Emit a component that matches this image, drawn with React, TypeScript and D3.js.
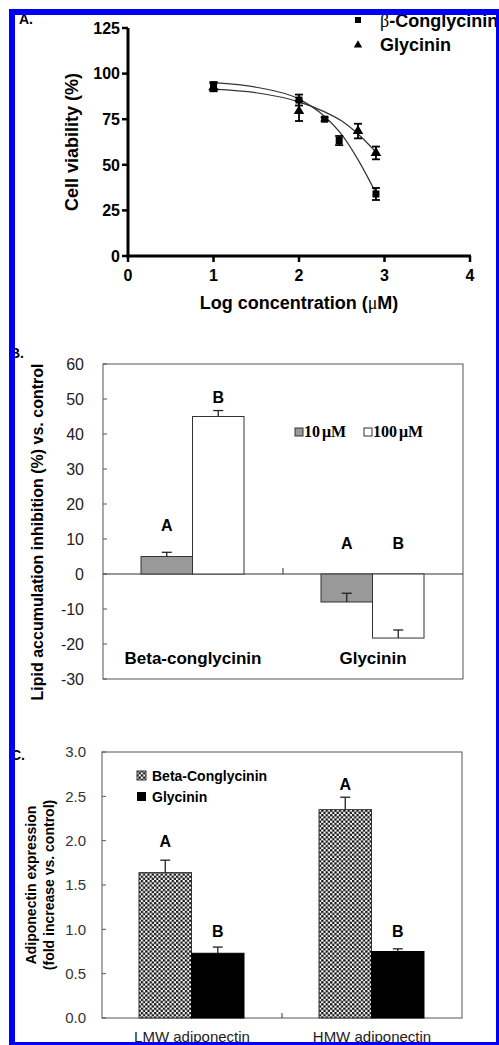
import React from 'react';
import * as d3 from 'd3';

// Panel A data
const concBeta = [1, 2, 2.3, 2.47, 2.9];
const viabBeta = [93.2, 85.5, 75, 63.3, 34];
const errBeta = [2.2, 3, 1, 2.5, 3.3];
const concGly = [1, 2, 2.69, 2.9];
const viabGly = [92.5, 79.5, 68.5, 56.5];
const errGly = [2.2, 5.5, 4, 3.5];
const fitX = [1, 1.5, 2, 2.3, 2.5, 2.7, 2.9];
const fitBeta = [95, 92.5, 86, 76.5, 66.5, 52, 34.5];
const fitGly = [91.5, 89.5, 84.5, 79, 74, 66.5, 57];
const xTicksA = [0, 1, 2, 3, 4];
const yTicksA = [0, 25, 50, 75, 100, 125];

// Panel B data
const catsB = ['Beta-conglycinin', 'Glycinin'];
const dosesB = ['10 μM', '100 μM'];
const val10 = [5, -8];
const err10 = [1.2, 2.5];
const val100 = [45, -18.3];
const err100 = [1.7, 2.3];
const letters10 = ['A', 'A'];
const letters100 = ['B', 'B'];
const letterY10 = [12.3, 7.1];
const letterY100 = [49, 7.1];
const yTicksB = [-30, -20, -10, 0, 10, 20, 30, 40, 50, 60];

// Panel C data
const catsC = ['LMW adiponectin', 'HMW adiponectin'];
const seriesC = ['Beta-Conglycinin', 'Glycinin'];
const valBetaC = [1.64, 2.35];
const errBetaC = [0.14, 0.14];
const valGlyC = [0.73, 0.75];
const errGlyC = [0.07, 0.03];
const lettersBetaC = ['A', 'A'];
const lettersGlyC = ['B', 'B'];
const letterYBetaC = [1.93, 2.57];
const letterYGlyC = [0.91, 0.91];
const yTicksC = [0, 0.5, 1, 1.5, 2, 2.5, 3];

const SANS = '"Liberation Sans", Arial, Helvetica, sans-serif';
const SERIF = '"Liberation Serif", "Times New Roman", serif';

export default function App() {
  // ---- Panel A scales
  const xA = d3.scaleLinear().domain([0, 4]).range([128, 470]);
  const yA = d3.scaleLinear().domain([0, 125]).range([256, 28]);
  const fitLine = d3
    .line<[number, number]>()
    .x((d) => xA(d[0]))
    .y((d) => yA(d[1]))
    .curve(d3.curveMonotoneX);
  const fitBetaPts = fitX.map((x, i) => [x, fitBeta[i]] as [number, number]);
  const fitGlyPts = fitX.map((x, i) => [x, fitGly[i]] as [number, number]);
  const tri = d3.symbol().type(d3.symbolTriangle).size(48)();

  // ---- Panel B scales
  const xB = d3.scaleBand<string>().domain(catsB).range([103, 463]);
  const subB = d3.scaleBand<string>().domain(dosesB).range([0, 103]);
  const yB = d3.scaleLinear().domain([-30, 60]).range([679, 364]);

  // ---- Panel C scales
  const xC = d3.scaleBand<string>().domain(catsC).range([102, 462]);
  const subC = d3.scaleBand<string>().domain(seriesC).range([0, 105]);
  const yC = d3.scaleLinear().domain([0, 3]).range([1018, 752]);

  const errBar = (x: number, y0: number, y1: number, key: string, w = 10) => (
    <g key={key} stroke="#222" strokeWidth={1.3}>
      <line x1={x} x2={x} y1={y0} y2={y1} />
      <line x1={x - w / 2} x2={x + w / 2} y1={y1} y2={y1} />
    </g>
  );

  return (
    <svg
      width={499}
      height={1045}
      style={{ position: 'absolute', left: 0, top: 0, background: '#fff' }}
      fontFamily={SANS}
    >
      <defs>
        <pattern id="dots" width={4.4} height={4.4} patternUnits="userSpaceOnUse">
          <rect width={4.4} height={4.4} fill="#fff" />
          <circle cx={1.1} cy={1.1} r={1.3} fill="#111" />
          <circle cx={3.3} cy={3.3} r={1.3} fill="#111" />
        </pattern>
      </defs>

      {/* ================= Panel A ================= */}
      <text x={19} y={24} fontSize={14} fontWeight="bold">A.</text>
      {/* axes */}
      <line x1={xA(0)} x2={xA(0)} y1={yA(125)} y2={yA(0) + 1.5} stroke="#000" strokeWidth={3} />
      <line x1={xA(0) - 1.5} x2={xA(4) + 1} y1={yA(0)} y2={yA(0)} stroke="#000" strokeWidth={3} />
      {yTicksA.map((t) => (
        <g key={'ya' + t}>
          <line x1={xA(0) - 6} x2={xA(0)} y1={yA(t)} y2={yA(t)} stroke="#000" strokeWidth={2.5} />
          <text x={xA(0) - 8} y={yA(t)} dy="0.36em" textAnchor="end" fontSize={16} fontWeight="bold">
            {t}
          </text>
        </g>
      ))}
      {xTicksA.map((t) => (
        <g key={'xa' + t}>
          <line x1={xA(t)} x2={xA(t)} y1={yA(0)} y2={yA(0) + 6} stroke="#000" strokeWidth={2.5} />
          <text x={xA(t)} y={281} textAnchor="middle" fontSize={16} fontWeight="bold">
            {t}
          </text>
        </g>
      ))}
      <text x={xA(2)} y={309} textAnchor="middle" fontSize={18} fontWeight="bold">
        Log concentration (<tspan fontFamily={SERIF} fontWeight="normal">μ</tspan>M)
      </text>
      <text transform="translate(78,142) rotate(-90)" textAnchor="middle" fontSize={18} fontWeight="bold">
        Cell viability (%)
      </text>
      {/* fitted curves */}
      <path d={fitLine(fitBetaPts) || ''} fill="none" stroke="#333" strokeWidth={1.2} />
      <path d={fitLine(fitGlyPts) || ''} fill="none" stroke="#333" strokeWidth={1.2} />
      {/* error bars + markers */}
      {concBeta.map((c, i) => (
        <g key={'eb' + i} stroke="#000" strokeWidth={1.8}>
          <line x1={xA(c)} x2={xA(c)} y1={yA(viabBeta[i] - errBeta[i])} y2={yA(viabBeta[i] + errBeta[i])} />
          <line x1={xA(c) - 4} x2={xA(c) + 4} y1={yA(viabBeta[i] - errBeta[i])} y2={yA(viabBeta[i] - errBeta[i])} />
          <line x1={xA(c) - 4} x2={xA(c) + 4} y1={yA(viabBeta[i] + errBeta[i])} y2={yA(viabBeta[i] + errBeta[i])} />
        </g>
      ))}
      {concGly.map((c, i) => (
        <g key={'eg' + i} stroke="#000" strokeWidth={1.8}>
          <line x1={xA(c)} x2={xA(c)} y1={yA(viabGly[i] - errGly[i])} y2={yA(viabGly[i] + errGly[i])} />
          <line x1={xA(c) - 4} x2={xA(c) + 4} y1={yA(viabGly[i] - errGly[i])} y2={yA(viabGly[i] - errGly[i])} />
          <line x1={xA(c) - 4} x2={xA(c) + 4} y1={yA(viabGly[i] + errGly[i])} y2={yA(viabGly[i] + errGly[i])} />
        </g>
      ))}
      {concBeta.map((c, i) => (
        <rect key={'mb' + i} x={xA(c) - 3.5} y={yA(viabBeta[i]) - 3.5} width={7} height={7} fill="#000" />
      ))}
      {concGly.map((c, i) => (
        <path key={'mg' + i} d={tri || ''} transform={`translate(${xA(c)},${yA(viabGly[i])})`} fill="#000" />
      ))}
      {/* legend A */}
      <rect x={355} y={17} width={6} height={6} fill="#000" />
      <text x={380} y={27} fontSize={18} fontWeight="bold">
        <tspan fontFamily={SERIF} fontWeight="normal">β</tspan>-Conglycinin
      </text>
      <path d={d3.symbol().type(d3.symbolTriangle).size(30)() || ''} transform="translate(358,45)" fill="#000" />
      <text x={380} y={51} fontSize={18} fontWeight="bold">Glycinin</text>

      {/* ================= Panel B ================= */}
      <text x={10} y={358} fontSize={14} fontWeight="bold">B.</text>
      <rect x={103} y={364} width={360} height={315} fill="none" stroke="#555" strokeWidth={1} />
      {yTicksB.map((t) => (
        <g key={'yb' + t}>
          <line x1={103} x2={107} y1={yB(t)} y2={yB(t)} stroke="#555" />
          <text x={84} y={yB(t)} dy="0.36em" textAnchor="end" fontSize={16} fill="#222">
            {t}
          </text>
        </g>
      ))}
      <line x1={103} x2={463} y1={yB(0)} y2={yB(0)} stroke="#333" strokeWidth={1} />
      <line x1={283} x2={283} y1={yB(0)} y2={yB(0) - 6} stroke="#333" strokeWidth={1} />
      {catsB.map((c, i) => {
        const x0 = (xB(c) || 0) + xB.bandwidth() / 2 - 52;
        const bw = subB.bandwidth();
        const x10 = x0 + (subB(dosesB[0]) || 0);
        const x100 = x0 + (subB(dosesB[1]) || 0);
        return (
          <g key={'gb' + c}>
            <rect x={x10} y={Math.min(yB(0), yB(val10[i]))} width={bw} height={Math.abs(yB(val10[i]) - yB(0))} fill="#999" stroke="#333" strokeWidth={1} />
            <rect x={x100} y={Math.min(yB(0), yB(val100[i]))} width={bw} height={Math.abs(yB(val100[i]) - yB(0))} fill="#fff" stroke="#333" strokeWidth={1} />
            {errBar(x10 + bw / 2, yB(val10[i]), yB(val10[i] + err10[i]), 'e10' + i)}
            {errBar(x100 + bw / 2, yB(val100[i]), yB(val100[i] + err100[i]), 'e100' + i)}
            <text x={x10 + bw / 2} y={yB(letterY10[i])} textAnchor="middle" fontSize={16} fontWeight="bold">{letters10[i]}</text>
            <text x={x100 + bw / 2} y={yB(letterY100[i])} textAnchor="middle" fontSize={16} fontWeight="bold">{letters100[i]}</text>
            <text x={(xB(c) || 0) + xB.bandwidth() / 2} y={664} textAnchor="middle" fontSize={17} fontWeight="bold">{c}</text>
          </g>
        );
      })}
      {/* legend B */}
      <rect x={295} y={428} width={8} height={8} fill="#999" stroke="#333" strokeWidth={1} />
      <text x={304} y={437} fontSize={16} fontFamily={SERIF} fontWeight="bold">10<tspan dx={2}>μM</tspan></text>
      <rect x={364} y={428} width={8} height={8} fill="#fff" stroke="#333" strokeWidth={1} />
      <text x={373} y={437} fontSize={16} fontFamily={SERIF} fontWeight="bold">100<tspan dx={2}>μM</tspan></text>
      <text transform="translate(43,532) rotate(-90)" textAnchor="middle" fontSize={16} fontWeight="bold">
        Lipid accumulation inhibition (%) vs. control
      </text>

      {/* ================= Panel C ================= */}
      <text x={11} y={760} fontSize={14} fontWeight="bold">C.</text>
      <rect x={102} y={752} width={360} height={266} fill="none" stroke="#555" strokeWidth={1} />
      {yTicksC.map((t) => (
        <g key={'yc' + t}>
          <line x1={102} x2={106} y1={yC(t)} y2={yC(t)} stroke="#555" />
          <text x={86} y={yC(t)} dy="0.36em" textAnchor="end" fontSize={15} fill="#333">
            {t.toFixed(1)}
          </text>
        </g>
      ))}
      <line x1={282} x2={282} y1={yC(0)} y2={yC(0) - 5} stroke="#333" strokeWidth={1} />
      {catsC.map((c, i) => {
        const x0 = (xC(c) || 0) + xC.bandwidth() / 2 - 53;
        const bw = subC.bandwidth();
        const xb = x0 + (subC(seriesC[0]) || 0);
        const xg = x0 + (subC(seriesC[1]) || 0);
        return (
          <g key={'gc' + c}>
            <rect x={xb} y={yC(valBetaC[i])} width={bw} height={yC(0) - yC(valBetaC[i])} fill="url(#dots)" stroke="#333" strokeWidth={1} />
            <rect x={xg} y={yC(valGlyC[i])} width={bw} height={yC(0) - yC(valGlyC[i])} fill="#000" stroke="#000" strokeWidth={1} />
            {errBar(xb + bw / 2, yC(valBetaC[i]), yC(valBetaC[i] + errBetaC[i]), 'ecb' + i)}
            {errBar(xg + bw / 2, yC(valGlyC[i]), yC(valGlyC[i] + errGlyC[i]), 'ecg' + i)}
            <text x={xb + bw / 2} y={yC(letterYBetaC[i])} textAnchor="middle" fontSize={16} fontWeight="bold">{lettersBetaC[i]}</text>
            <text x={xg + bw / 2} y={yC(letterYGlyC[i])} textAnchor="middle" fontSize={16} fontWeight="bold">{lettersGlyC[i]}</text>
            <text x={(xC(c) || 0) + xC.bandwidth() / 2} y={1042} textAnchor="middle" fontSize={15} fill="#222">{c}</text>
          </g>
        );
      })}
      {/* legend C */}
      <rect x={137} y={771} width={9} height={9} fill="url(#dots)" stroke="#333" strokeWidth={1} />
      <text x={152} y={781} fontSize={14} fontWeight="bold">{seriesC[0]}</text>
      <rect x={137} y={792} width={9} height={9} fill="#000" />
      <text x={152} y={802} fontSize={14} fontWeight="bold">{seriesC[1]}</text>
      <text transform="translate(36,885) rotate(-90)" textAnchor="middle" fontSize={14} fontWeight="bold">
        Adiponectin expression
      </text>
      <text transform="translate(54,885) rotate(-90)" textAnchor="middle" fontSize={14} fontWeight="bold">
        (fold increase vs. control)
      </text>

      {/* blue frame */}
      <rect x={12} y={12} width={487} height={1033} fill="none" stroke="#0000f5" strokeWidth={6} />
    </svg>
  );
}
